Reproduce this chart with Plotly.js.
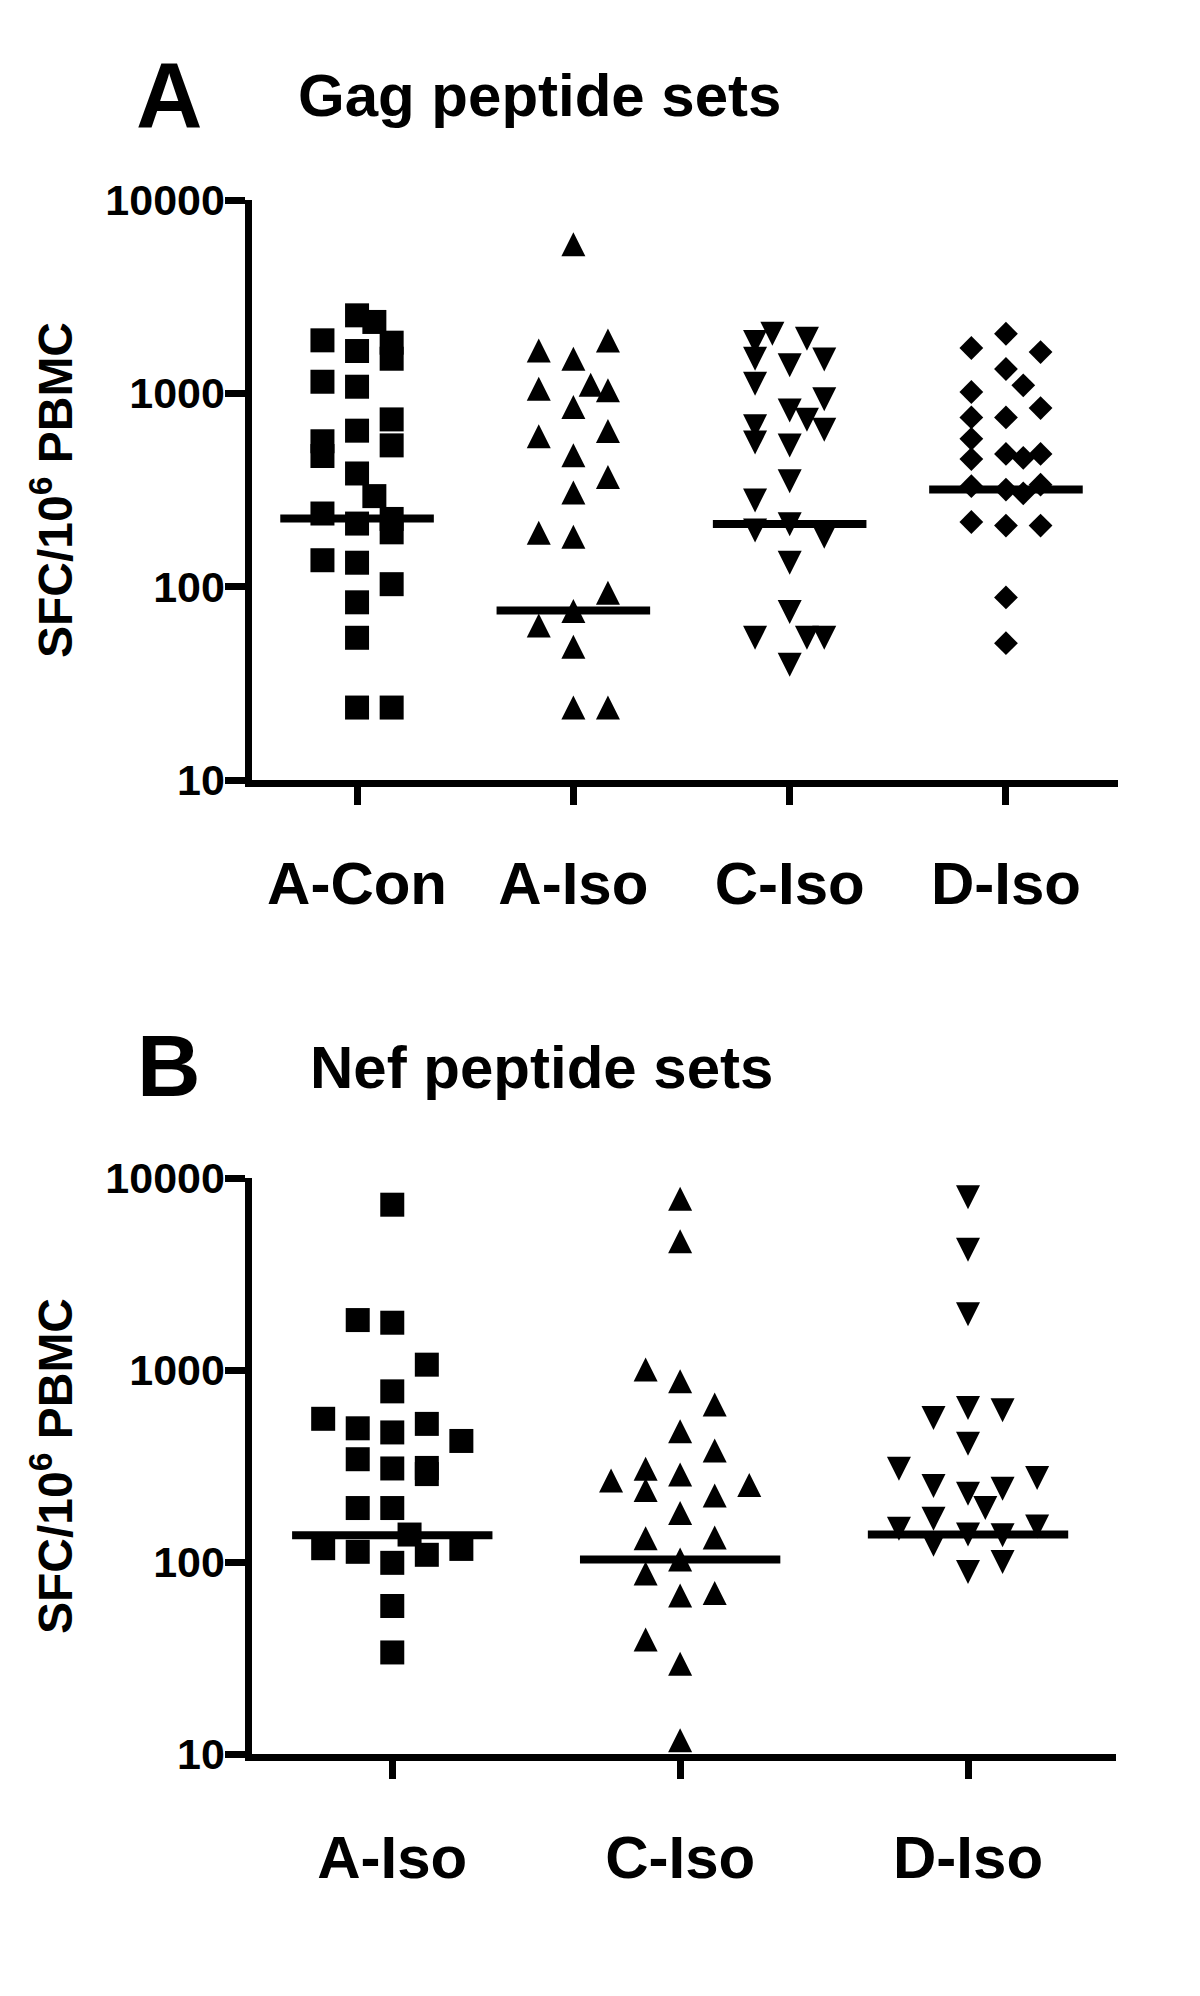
<!DOCTYPE html>
<html><head><meta charset="utf-8">
<script src="https://cdn.plot.ly/plotly-3.0.1.min.js"></script>
<style>html,body{margin:0;padding:0;background:#fff}#chart{width:1200px;height:1996px}</style>
</head><body><div id="chart"></div>
<script>
// ---- categories and ticks ----
const gagCategories = ['A-Con', 'A-Iso', 'C-Iso', 'D-Iso'];
const nefCategories = ['A-Iso', 'C-Iso', 'D-Iso'];
const yTickValues = [10, 100, 1000, 10000];
const yTickLabels = ['10', '100', '1000', '10000'];

// ---- Panel A: Gag peptide sets (SFC/10^6 PBMC) ----
const gagAConValues = [1880, 1148, 565, 474, 239, 137, 2532, 1655, 1082, 641, 385, 212, 133, 83, 54.4, 23.7, 2340, 294, 1828, 1510, 733, 538, 224, 191, 103, 23.7];
const gagAConSlots  = [-2, -2, -2, -2, -2, -2, 0, 0, 0, 0, 0, 0, 0, 0, 0, 0, 1, 1, 2, 2, 2, 2, 2, 2, 2, 2];

const gagAIsoValues = [1668, 1057, 599, 190, 63, 5905, 1511, 849, 478, 307, 181, 74.8, 48.9, 23.7, 1108, 1876, 1036, 638, 369, 93, 23.7];
const gagAIsoSlots  = [-2, -2, -2, -2, -2, 0, 0, 0, 0, 0, 0, 0, 0, 0, 1, 2, 2, 2, 2, 2, 2];

const gagCIsoValues = [1841, 1511, 1122, 675, 556, 279, 195, 54.4, 2033, 1396, 816, 538, 351, 210, 133, 74, 39.4, 1918, 731, 54.4, 1496, 931, 648, 181, 54.4];
const gagCIsoSlots  = [-2, -2, -2, -2, -2, -2, -2, -2, -1, 0, 0, 0, 0, 0, 0, 0, 0, 1, 1, 1, 2, 2, 2, 2, 2];

const gagDIsoValues = [1716, 1016, 751, 582, 457, 331, 216, 2033, 1336, 751, 486, 318, 207, 88, 51, 1100, 464, 304, 1635, 839, 486, 337, 207];
const gagDIsoSlots  = [-2, -2, -2, -2, -2, -2, -2, 0, 0, 0, 0, 0, 0, 0, 0, 1, 1, 1, 2, 2, 2, 2, 2];

const gagMedians = [225, 75.2, 211, 318];

// ---- Panel B: Nef peptide sets ----
const nefAIsoValues = [557, 118, 1820, 497, 343, 191, 113, 7260, 1763, 774, 473, 307, 191, 99, 59, 33.8, 139, 1066, 524, 309, 287, 109, 427, 117];
const nefAIsoSlots  = [-4, -4, -2, -2, -2, -2, -2, 0, 0, 0, 0, 0, 0, 0, 0, 0, 1, 2, 2, 2, 2, 2, 4, 4];

const nefCIsoValues = [266, 1006, 306, 237, 133, 87, 39.5, 7790, 4690, 875, 480, 286, 180, 103, 67, 29.5, 11.8, 661, 381, 222, 134, 69, 252];
const nefCIsoSlots  = [-4, -2, -2, -2, -2, -2, -2, 0, 0, 0, 0, 0, 0, 0, 0, 0, 0, 2, 2, 2, 2, 2, 4];

const nefDIsoValues = [306, 149, 562, 249, 168, 123, 7940, 4230, 1953, 634, 413, 227, 139, 88.7, 191, 617, 241, 138, 100, 274, 153];
const nefDIsoSlots  = [-4, -4, -2, -2, -2, -2, 0, 0, 0, 0, 0, 0, 0, 0, 1, 2, 2, 2, 2, 4, 4];

const nefMedians = [138, 103, 139];

// ---- styling ----
const FONT = 'Liberation Sans, Arial, Helvetica, sans-serif';
const BLACK = '#000000';
const SQUARE   = {symbol: 'square', size: 24, color: BLACK, line: {width: 0}};
const DIAMOND  = {symbol: 'diamond', size: 18.3, color: BLACK, line: {width: 0}};
const TRI_UP   = {symbol: 'arrow-down', angle: 180, standoff: 12, size: 24, color: BLACK, line: {width: 0}};
const TRI_DOWN = {symbol: 'arrow-down', angle: 0, standoff: 12, size: 24, color: BLACK, line: {width: 0}};

function pointsTrace(values, slots, catIndex, slotWidth, marker, xa, ya) {
  return {
    type: 'scatter', mode: 'markers', xaxis: xa, yaxis: ya,
    x: values.map((v, i) => catIndex + slots[i] * slotWidth),
    y: values, marker: marker, cliponaxis: false, hoverinfo: 'skip'
  };
}
function medianTrace(medians, halfWidth, xa, ya) {
  const x = [], y = [];
  medians.forEach((m, i) => { x.push(i - halfWidth, i + halfWidth, null); y.push(m, m, null); });
  return {type: 'scatter', mode: 'lines', xaxis: xa, yaxis: ya, x: x, y: y,
          line: {color: BLACK, width: 8}, cliponaxis: false, hoverinfo: 'skip'};
}

const SLOT_A = 0.08, SLOT_B = 0.06;
const traces = [
  pointsTrace(gagAConValues, gagAConSlots, 0, SLOT_A, SQUARE, 'x', 'y'),
  pointsTrace(gagAIsoValues, gagAIsoSlots, 1, SLOT_A, TRI_UP, 'x', 'y'),
  pointsTrace(gagCIsoValues, gagCIsoSlots, 2, SLOT_A, TRI_DOWN, 'x', 'y'),
  pointsTrace(gagDIsoValues, gagDIsoSlots, 3, SLOT_A, DIAMOND, 'x', 'y'),
  medianTrace(gagMedians, 0.355, 'x', 'y'),
  pointsTrace(nefAIsoValues, nefAIsoSlots, 0, SLOT_B, SQUARE, 'x2', 'y2'),
  pointsTrace(nefCIsoValues, nefCIsoSlots, 1, SLOT_B, TRI_UP, 'x2', 'y2'),
  pointsTrace(nefDIsoValues, nefDIsoSlots, 2, SLOT_B, TRI_DOWN, 'x2', 'y2'),
  medianTrace(nefMedians, 0.348, 'x2', 'y2')
];

function xAxis(domain, range, cats, anchor) {
  return {
    domain: domain, range: range, anchor: anchor,
    tickmode: 'array', tickvals: cats.map((c, i) => i), ticktext: cats,
    ticks: 'outside', ticklen: 18, tickwidth: 7, tickcolor: BLACK,
    showline: true, linewidth: 7, linecolor: BLACK,
    showgrid: false, zeroline: false, fixedrange: true,
    ticklabelstandoff: 27,
    tickfont: {family: FONT, size: 60, color: BLACK, weight: 'bold'}
  };
}
function yAxis(domain, anchor) {
  return {
    type: 'log', domain: domain, range: [1, 4], anchor: anchor,
    tickmode: 'array', tickvals: yTickValues, ticktext: yTickLabels,
    ticks: 'outside', ticklen: 20, tickwidth: 7, tickcolor: BLACK,
    showline: true, linewidth: 7, linecolor: BLACK,
    showgrid: false, zeroline: false, fixedrange: true,
    ticklabelstandoff: -9,
    tickfont: {family: FONT, size: 43, color: BLACK, weight: 'bold'},
    title: {text: 'SFC/10<sup>6</sup> PBMC', standoff: 20,
            font: {family: FONT, size: 48, color: BLACK, weight: 'bold'}}
  };
}

const W = 1200, H = 1996;
const layout = {
  width: W, height: H,
  margin: {l: 0, r: 0, t: 0, b: 0},
  paper_bgcolor: '#ffffff', plot_bgcolor: '#ffffff',
  showlegend: false, hovermode: false,
  xaxis: xAxis([251.5 / W, 1118 / W], [-0.488, 3.518], gagCategories, 'y'),
  yaxis: yAxis([1 - 780 / H, 1 - 200 / H], 'x'),
  xaxis2: xAxis([251.5 / W, 1116 / W], [-0.489, 2.514], nefCategories, 'y2'),
  yaxis2: yAxis([1 - 1754 / H, 1 - 1178 / H], 'x2'),
  annotations: [
    {text: 'A', xref: 'paper', yref: 'paper', x: 169 / W, y: 1 - 95 / H, xanchor: 'center', yanchor: 'middle',
     showarrow: false, font: {family: FONT, size: 92, color: BLACK, weight: 'bold'}},
    {text: 'Gag peptide sets', xref: 'paper', yref: 'paper', x: 296 / W, y: 1 - 95 / H, xanchor: 'left', yanchor: 'middle',
     showarrow: false, font: {family: FONT, size: 60, color: BLACK, weight: 'bold'}},
    {text: 'B', xref: 'paper', yref: 'paper', x: 169 / W, y: 1 - 1065 / H, xanchor: 'center', yanchor: 'middle',
     showarrow: false, font: {family: FONT, size: 88, color: BLACK, weight: 'bold'}},
    {text: 'Nef peptide sets', xref: 'paper', yref: 'paper', x: 308 / W, y: 1 - 1067 / H, xanchor: 'left', yanchor: 'middle',
     showarrow: false, font: {family: FONT, size: 60, color: BLACK, weight: 'bold'}}
  ]
};

Plotly.newPlot('chart', traces, layout, {staticPlot: true, displayModeBar: false});
</script>
</body></html>
